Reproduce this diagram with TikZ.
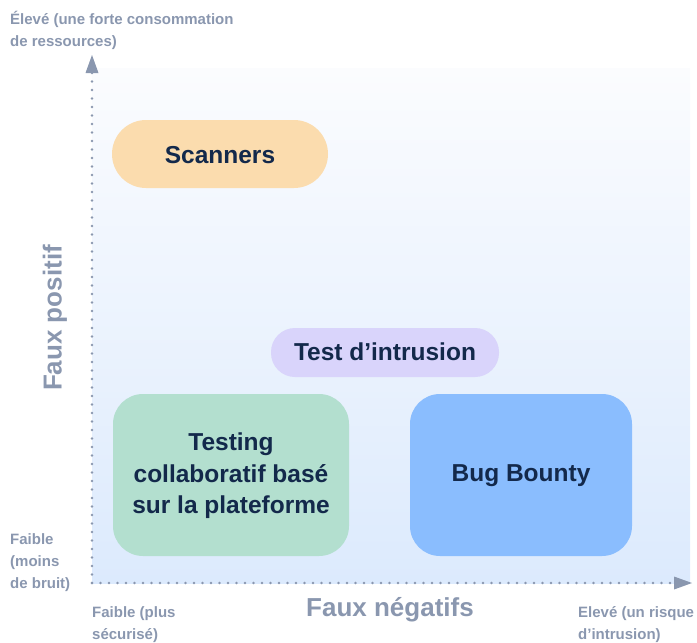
\documentclass[tikz,border=0pt]{standalone}
\usepackage{fontspec}
\setmainfont{Liberation Sans}
\usetikzlibrary{arrows.meta}
\definecolor{axisgray}{HTML}{8A97AF}
\definecolor{navy}{HTML}{13294B}
\definecolor{peach}{HTML}{FBDCAE}
\definecolor{lavender}{HTML}{D9D4FB}
\definecolor{mint}{HTML}{B3DFCF}
\definecolor{skyblue}{HTML}{8ABDFE}
\definecolor{bgtop}{HTML}{FBFCFE}
\definecolor{bgbot}{HTML}{DCEAFD}
\begin{document}
\begin{tikzpicture}[x=1pt,y=-1pt,
  smalllabel/.style={text=axisgray,font=\fontsize{15}{22}\selectfont\bfseries,align=left,inner sep=0pt},
  axislabel/.style={text=axisgray,font=\fontsize{26}{30}\selectfont\bfseries,inner sep=0pt},
  boxlabel/.style={text=navy,font=\fontsize{24.5}{31.5}\selectfont\bfseries,align=center,inner sep=0pt},
  axisline/.style={draw=axisgray,line width=2.8pt,line cap=round,dash pattern=on 0pt off 8.5pt,
     -{Triangle[length=18pt,width=13pt,fill=axisgray,line width=0pt]}},
]
\useasboundingbox (0,0) rectangle (697,643);
% background
\shade[top color=bgtop,bottom color=bgbot] (92,68) rectangle (690,583);
% axes
\coordinate (O) at (92,583);
\coordinate (ytip) at (92,55);
\coordinate (xtip) at (692,583);
\draw[axisline] (O) -- (ytip);
\draw[axisline] (O) -- (xtip);
% boxes
\fill[peach,rounded corners=34pt] (112,120) rectangle (328,188);
\node[boxlabel] (scanners) at (220,155) {Scanners};
\fill[lavender,rounded corners=24pt] (271,328) rectangle (499,377);
\node[boxlabel] (pentest) at (385,352) {Test d’intrusion};
\fill[mint,rounded corners=30pt] (113,394) rectangle (349,556);
\node[boxlabel] (testing) at (231,476) {Testing\\collaboratif basé\\sur la plateforme};
\fill[skyblue,rounded corners=30pt] (410,394) rectangle (632,556);
\node[boxlabel] (bugbounty) at (521,476) {Bug Bounty};
% labels (base anchor = last line baseline)
\node[smalllabel,anchor=base west] (yhigh) at (10,46) {Élevé (une forte consommation\\de ressources)};
\node[smalllabel,anchor=base west] (ylow) at (10,588) {Faible\\(moins\\de bruit)};
\node[smalllabel,anchor=base west] (xlow) at (92,639) {Faible (plus\\sécurisé)};
\node[smalllabel,anchor=base west] (xhigh) at (578,639) {Elevé (un risque\\d’intrusion)};
\node[axislabel,rotate=90] (ylabel) at (55,318) {Faux positif};
\node[axislabel] (xlabel) at (390,610) {Faux négatifs};
\end{tikzpicture}
\end{document}
